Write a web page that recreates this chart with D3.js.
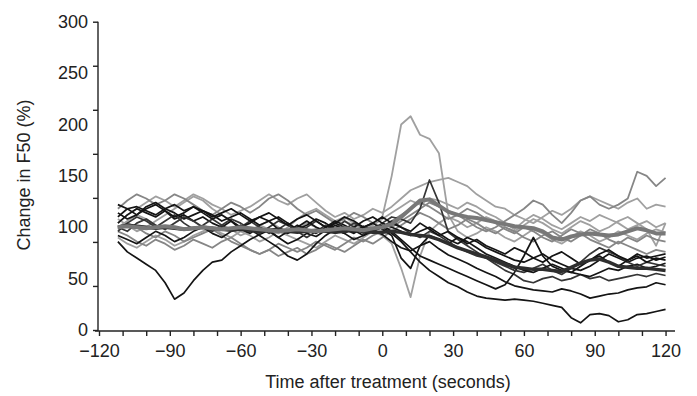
<!DOCTYPE html>
<html>
<head>
<meta charset="utf-8">
<script src="https://cdn.jsdelivr.net/npm/d3@7"></script>
<style>
  body { margin: 0; background: #fff; }
  svg text { font-family: "Liberation Sans", Arial, sans-serif; fill: #222; }
</style>
</head>
<body>
<svg id="chart"></svg>
<script>
// time after treatment (s), one sample every 4 s
const times = [-112,-108,-104,-100,-96,-92,-88,-84,-80,-76,
  -72,-68,-64,-60,-56,-52,-48,-44,-40,-36,
  -32,-28,-24,-20,-16,-12,-8,-4,0,4,
  8,12,16,20,24,28,32,36,40,44,
  48,52,56,60,64,68,72,76,80,84,
  88,92,96,100,104,108,112,116,120];

// dark traces (% change in F50)
const k1 = [86,76,70,64,58,46,30,36,48,58, 66,68,76,82,88,93,97,90,84,88, 94,91,97,104,100,95,101,97,93,86, 80,77,82,86,79,73,69,65,60,56, 52,47,43,41,39,38,37,40,38,35, 31,33,35,36,39,41,42,46,44];
const k2 = [104,112,118,114,110,116,108,112,106,110, 104,100,106,98,94,100,96,90,96,102, 98,94,100,106,102,97,92,96,100,94, 86,76,66,58,52,46,42,37,33,31, 30,29,30,29,28,26,24,22,12,7, 15,16,14,8,10,15,16,18,20];
const k3 = [96,104,110,106,100,106,112,104,98,102, 108,102,96,100,106,100,94,98,104,96, 90,96,102,98,106,100,94,98,104,110, 108,104,118,146,124,95,88,82,76,70, 64,58,54,48,46,50,52,48,50,54, 50,52,48,50,52,54,52,55,53];
const k4 = [110,118,120,116,112,118,114,108,112,116, 112,106,110,114,108,102,106,110,104,98, 102,108,104,98,94,100,106,110,104,100, 96,92,96,100,94,88,84,90,86,80, 76,72,68,66,70,74,68,64,60,58, 62,68,74,70,66,70,72,68,71];
const k5 = [92,88,84,90,96,92,86,90,96,100, 94,90,96,102,98,92,86,80,72,68, 74,84,92,98,94,88,92,98,102,96, 88,80,72,68,64,60,56,52,48,44, 40,44,56,72,90,72,62,58,56,54, 52,56,60,58,62,64,60,62,65];
const k6 = [100,96,104,108,102,98,104,110,106,100, 96,102,108,104,98,94,100,106,102,96, 100,106,100,94,98,104,100,96,100,106, 100,94,90,96,92,86,80,76,72,70, 66,62,58,56,60,64,58,54,60,66, 74,80,76,72,66,62,66,64,62];
const k7 = [114,108,112,118,122,116,110,114,120,116, 110,114,118,112,106,110,114,108,102,108, 112,106,100,104,110,106,100,104,98,92, 70,60,82,92,88,84,90,86,80,74, 70,66,62,58,56,60,64,60,56,62, 68,72,66,62,68,72,66,70,68];
const k8 = [122,118,112,120,124,118,122,116,120,114, 108,112,106,100,104,110,106,98,94,100, 106,100,96,102,98,94,100,104,110,104, 100,96,104,98,92,96,90,84,88,82, 78,74,80,76,70,66,72,76,70,64, 68,74,78,72,68,74,70,72,74];

// grey traces
const g1 = [100,106,112,108,102,98,104,110,106,100, 96,102,98,92,96,102,106,100,94,98, 104,100,96,100,106,102,98,104,110,150, 200,208,190,186,172,112,96,90,94,100, 96,90,86,92,98,94,88,84,90,96, 92,86,90,96,92,88,94,98,95];
const g2 = [90,84,80,86,92,88,82,86,92,96, 100,94,90,96,92,86,90,96,92,88, 84,80,86,92,88,84,90,96,92,84, 60,32,72,96,104,110,106,100,104,110, 106,100,96,102,108,104,98,94,100,106, 102,96,100,106,110,104,98,82,104];
const g3 = [118,126,132,128,122,126,132,128,122,116, 112,118,124,120,114,120,128,132,126,118, 112,116,110,104,108,114,110,104,100,106, 112,118,124,120,114,108,112,106,100,96, 100,106,112,118,126,122,112,104,114,126, 130,122,118,122,128,154,150,140,148];
const g4 = [104,112,118,124,130,126,120,126,132,128, 122,118,112,116,120,126,132,126,122,128, 132,124,116,110,114,108,112,118,114,120, 128,136,140,144,146,148,144,140,132,126, 120,118,112,108,104,110,116,112,118,126, 130,126,122,118,124,128,118,122,120];
const g5 = [96,92,86,82,88,84,78,82,88,84, 80,86,90,84,78,74,78,84,80,76, 80,86,82,78,84,90,86,92,96,100, 106,112,118,124,120,116,112,118,114,108, 104,98,94,100,96,90,86,92,98,94, 88,84,80,86,82,78,74,78,76];
const g6 = [108,102,96,100,106,112,118,124,130,126, 118,112,106,100,96,102,98,94,100,108, 114,118,112,106,110,104,98,102,108,114, 120,126,122,128,126,122,118,124,120,114, 110,104,98,106,112,108,102,98,104,110, 106,112,108,104,98,102,106,100,104];
const g7 = [98,104,100,94,90,96,92,86,90,94, 98,92,86,82,78,74,78,72,76,80, 74,78,84,80,76,82,88,84,90,96, 102,108,114,110,104,98,102,108,104,98, 94,100,96,90,86,92,96,90,86,92, 98,94,88,84,90,86,92,88,86];

// group means
const meanGrey = [100,101,100,99,100,101,100,98,99,100, 99,98,99,100,99,98,97,96,97,98, 97,96,97,98,99,98,97,99,100,103, 110,118,126,127,121,115,112,110,109,107, 105,103,101,100,99,96,90,88,91,93, 94,93,92,93,96,99,97,94,94];
const meanDark = [100,102,101,100,99,100,99,98,99,100, 99,98,97,98,97,96,97,98,96,95, 96,97,96,95,96,97,96,95,95,96, 95,93,92,91,88,84,80,77,74,71, 68,64,61,60,59,59,58,57,61,65, 68,69,66,62,61,60,60,59,58];

const xTicks = [-120,-110,-100,-90,-80,-70,-60,-50,-40,-30,-20,-10,0,10,20,30,40,50,60,70,80,90,100,110,120];
const xLabels = [-120,-90,-60,-30,0,30,60,90,120];
const yLabels = [0,50,100,150,200,250,300];
const yTicks = [0,42.86,85.71,128.57,171.43,214.29,257.14,300];

const W = 697, H = 396;
const svg = d3.select("#chart").attr("width", W).attr("height", H);

const x = d3.scaleLinear().domain([-120, 124]).range([99, 675]);
const y = d3.scaleLinear().domain([0, 300]).range([330, 21.7]);

const line = d3.line()
  .x((d, i) => x(times[i]))
  .y(d => y(d));

const lightGrey = [g1, g2, g4, g6];
const midGrey = [g3, g5, g7];
const darks = [k1, k2, k3, k4, k5, k6, k7, k8];

const plot = svg.append("g");
plot.selectAll(".light").data(lightGrey).enter().append("path")
  .attr("d", line).attr("fill", "none")
  .attr("stroke", "#a0a0a0").attr("stroke-width", 1.8).attr("stroke-linejoin", "round");
plot.selectAll(".mid").data(midGrey).enter().append("path")
  .attr("d", line).attr("fill", "none")
  .attr("stroke", "#868686").attr("stroke-width", 1.8).attr("stroke-linejoin", "round");
plot.selectAll(".dark").data(darks).enter().append("path")
  .attr("d", line).attr("fill", "none")
  .attr("stroke", (d, i) => i % 3 == 2 ? "#353535" : "#141414")
  .attr("stroke-width", 1.7).attr("stroke-linejoin", "round");
plot.append("path").datum(meanDark)
  .attr("d", line).attr("fill", "none")
  .attr("stroke", "#2e2e2e").attr("stroke-width", 3.5).attr("stroke-linejoin", "round");
plot.append("path").datum(meanGrey)
  .attr("d", line).attr("fill", "none")
  .attr("stroke", "#787878").attr("stroke-width", 4).attr("stroke-linejoin", "round");

// x axis: ticks every 10 s, labels every 30 s
const xAxis = svg.append("g")
  .attr("transform", "translate(0,331)")
  .call(d3.axisBottom(x).tickValues(xTicks).tickSize(5).tickFormat(""));
xAxis.select(".domain").attr("d", "M95,0H675");
svg.append("g")
  .attr("transform", "translate(0,331)")
  .call(d3.axisBottom(x).tickValues(xLabels).tickSize(0))
  .call(g => g.select(".domain").remove())
  .selectAll("text")
  .attr("y", 26).attr("dy", 0)
  .style("font-size", "18px");

// y axis: the tick marks and the labels are not aligned in the original
svg.append("g")
  .attr("transform", "translate(98,0)")
  .call(d3.axisLeft(y).tickValues(yTicks).tickSize(5).tickFormat(""))
  .select(".domain").attr("d", "M0,21.7V331");
svg.append("g")
  .attr("transform", "translate(98,0)")
  .call(d3.axisLeft(y).tickValues(yLabels).tickSize(0).tickPadding(10))
  .call(g => g.select(".domain").remove())
  .selectAll("text")
  .style("font-size", "18px");

svg.selectAll(".domain, .tick line").attr("stroke", "#222").attr("stroke-width", 1.4);

svg.append("text")
  .attr("x", 388).attr("y", 388)
  .attr("text-anchor", "middle")
  .style("font-size", "18px")
  .text("Time after treatment (seconds)");

svg.append("text")
  .attr("transform", "translate(30,175) rotate(-90)")
  .attr("text-anchor", "middle")
  .style("font-size", "18px")
  .text("Change in F50 (%)");
</script>
</body>
</html>
